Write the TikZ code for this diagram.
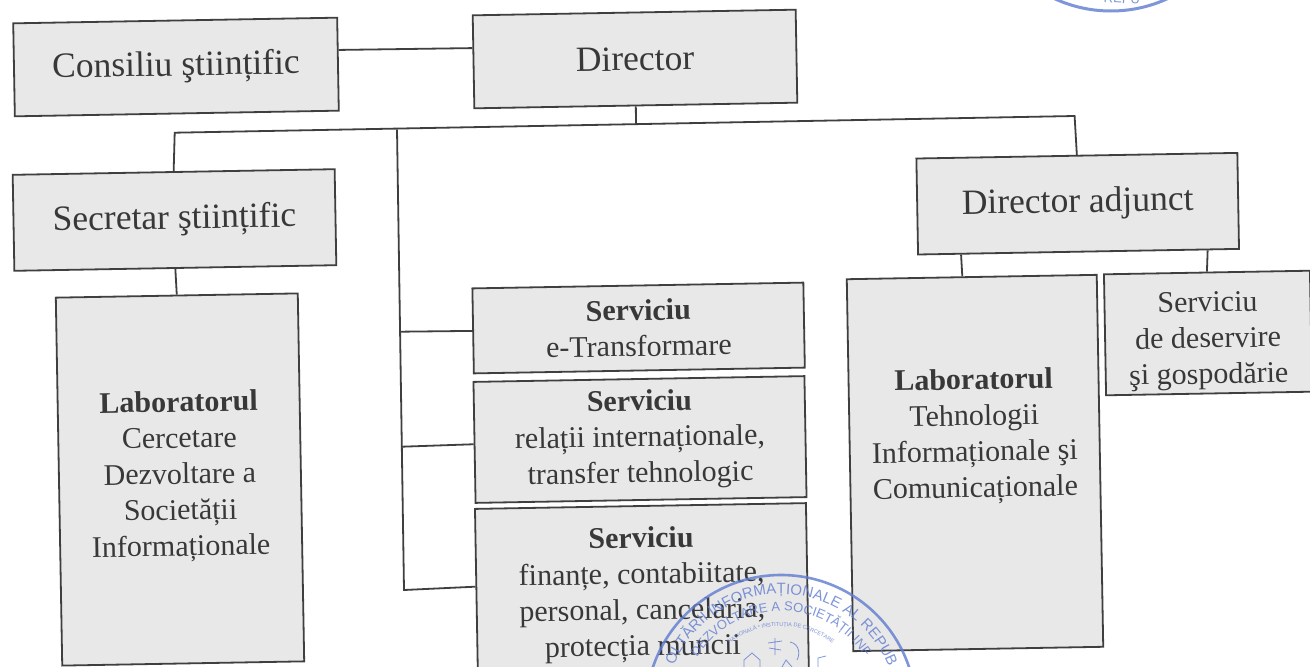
\documentclass[tikz,border=0pt]{standalone}
\usepackage{fontspec}
\usetikzlibrary{calc,decorations.text}
\setmainfont{Liberation Serif}
\newfontfamily\stampfont{Liberation Sans}
\definecolor{boxfill}{HTML}{E8E8E8}
\definecolor{ink}{HTML}{383838}
\definecolor{linkink}{HTML}{3F3F3F}
\definecolor{stampink}{HTML}{5F7BD0}
\tikzset{
 orgbox/.style={draw=linkink,fill=boxfill,line width=1.8pt,align=center,text=ink,inner sep=0pt,rotate=1,font=\fontsize{35.5}{42}\selectfont},
 smallbox/.style={orgbox,font=\fontsize{30}{36}\selectfont},
 link/.style={draw=linkink,line width=1.8pt},
 stampring/.style={draw=stampink,line width=2.6pt},
 stampline/.style={draw=stampink,line width=.8pt},
}
\begin{document}
\begin{tikzpicture}[x=1pt,y=-1pt]
\useasboundingbox (0,0) rectangle (1310,667);
\fill[white] (0,0) rectangle (1310,667);
\clip (0,0) rectangle (1310,667);
\node[orgbox,minimum width=324pt,minimum height=93pt] (cons) at (176,67) {Consiliu ştiințific};
\node[orgbox,minimum width=323pt,minimum height=93pt] (dir) at (635,59) {Director};
\node[orgbox,minimum width=322pt,minimum height=96pt] (sec) at (174.5,220) {Secretar ştiințific};
\node[orgbox,minimum width=321pt,minimum height=96pt] (adj) at (1077.7,203.7) {Director adjunct};
\node[smallbox,minimum width=242pt,minimum height=368pt] (labA) at (180,479.5) {\textbf{Laboratorul}\\Cercetare\\Dezvoltare a\\Societății\\Informaționale\\[-24pt]\mbox{}};
\node[smallbox,minimum width=331pt,minimum height=85pt] (s1) at (638.6,328) {\textbf{Serviciu}\\e-Transformare};
\node[smallbox,minimum width=331pt,minimum height=121pt] (s2) at (640,439.5) {\textbf{Serviciu}\\relații internaționale,\\transfer tehnologic};
\node[smallbox,minimum width=331pt,minimum height=177pt] (s3) at (642,594.5) {\textbf{Serviciu}\\finanțe, contabiitate,\\personal, cancelaria,\\protecția muncii};
\node[smallbox,minimum width=250pt,minimum height=372pt] (labB) at (975,463) {\textbf{Laboratorul}\\Tehnologii\\Informaționale şi\\Comunicaționale\\[24pt]\mbox{}};
\node[smallbox,minimum width=206pt,minimum height=121pt] (deserv) at (1208,333) {\rule{0pt}{36pt}Serviciu\\de deservire\\şi gospodărie};
\coordinate (busL) at (174.7,132.7);
\coordinate (busR) at (1074.6,116);
\coordinate (spineTop) at (397,129.3);
\coordinate (spineA) at (400,331.7);
\coordinate (spineB) at (402,446.7);
\coordinate (spineC) at (404,590);
\coordinate (trunk) at (636,124);
\draw[link] ($(cons.north east)!0.35!(cons.south east)$) -- ($(dir.north west)!0.355!(dir.south west)$);
\draw[link] (dir.south) -- (trunk);
\draw[link,line join=miter] (sec.north) -- (busL) -- (busR) -- (adj.north);
\draw[link] (sec.south) -- (labA.north);
\draw[link] ($(adj.south west)!0.136!(adj.south east)$) -- ($(labB.north west)!0.4625!(labB.north east)$);
\draw[link] ($(adj.south west)!0.9!(adj.south east)$) -- (deserv.north);
\draw[link] (spineTop) -- (spineC) -- ($(s3.north west)!0.44!(s3.south west)$);
\draw[link] (spineA) -- (s1.west);
\draw[link] (spineB) -- ($(s2.north west)!0.515!(s2.south west)$);
% stamps
\begin{scope}[opacity=.8]
\draw[stampring] (781,710) circle[radius=135];
\path[postaction={decorate,decoration={text along path,text align=center,text={|\stampfont\fontsize{15}{15}\selectfont\color{stampink}|OLTĂRII INFORMAȚIONALE AL REPUB}}}] (781,710) ++(203:116) arc[start angle=203,end angle=338,radius=116];
\path[postaction={decorate,decoration={text along path,text align=center,text={|\stampfont\fontsize{13}{13}\selectfont\color{stampink}|DEZVOLTARE A SOCIETĂȚII INF}}}] (781,710) ++(207:99) arc[start angle=207,end angle=333,radius=99];
\path[postaction={decorate,decoration={text along path,text align=center,text={|\stampfont\fontsize{5.5}{5.5}\selectfont\color{stampink}|NAȚIONALĂ * INSTITUȚIA DE CERCETARE}}}] (781,710) ++(215:84) arc[start angle=215,end angle=325,radius=84];
\draw[stampline] (775,638) -- (775,655) (768,643) -- (782,641) (769,648) -- (781,650) (790,642) .. controls (800,644) and (800,655) .. (797,660);
\draw[stampline] (744,667) -- (744,660) -- (752,653) -- (760,660) -- (760,667) (782,667) -- (786,660) -- (792,667) (818,667) -- (818,658) -- (826,656);
\draw[stampring,line width=3pt] (1111,-124) circle[radius=135];
\node[font=\stampfont\fontsize{13}{13}\selectfont,text=stampink,rotate=-3] (repu) at (1122,-1) {REPU};
\end{scope}
\end{tikzpicture}
\end{document}
